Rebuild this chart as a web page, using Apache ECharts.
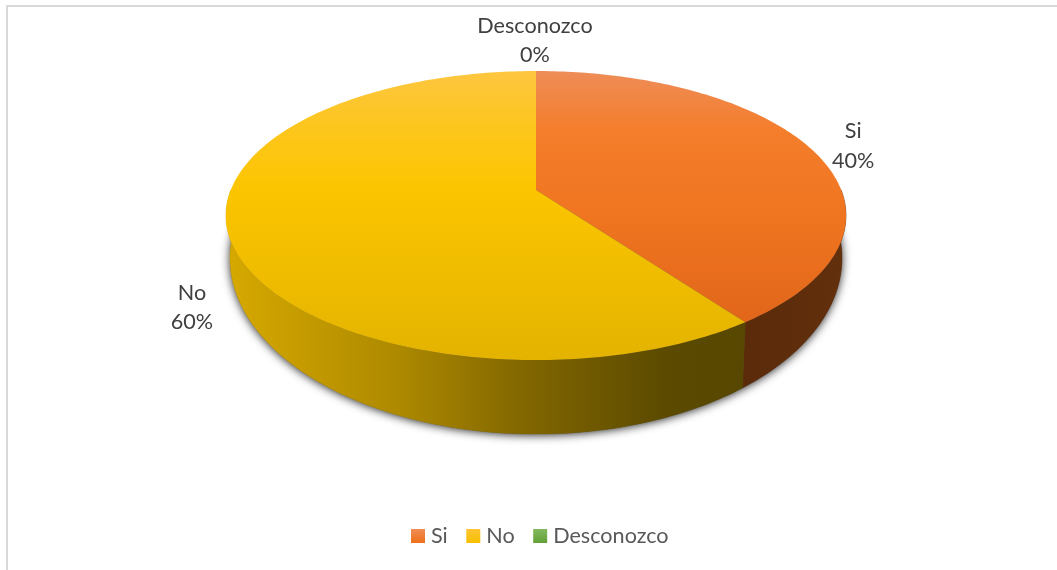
<!DOCTYPE html>
<html>
<head>
<meta charset="utf-8">
<style>html,body{margin:0;padding:0;background:#fff}#chart{width:1057px;height:570px}</style>
<script src="https://cdn.jsdelivr.net/npm/echarts@6/dist/echarts.min.js"></script>
</head>
<body>
<div id="chart"></div>
<script>
// Survey answers
const categories = ['Si', 'No', 'Desconozco'];
const values = [40, 60, 0];

const total = values.reduce((a, b) => a + b, 0);
const FONT = 'Lato, "Open Sans", sans-serif';

// Perspective disc: a unit circle is projected on to the page
const CX = 536;
const PERSP = -0.1765;
const TOP_DISC = { r: 305.2, a: 106.47, b: 190 };
const BASE_DISC = { r: 301.2, a: 130.5, b: 227 };

function project(disc, deg) {
  const t = deg * Math.PI / 180;
  const u = Math.sin(t), v = -Math.cos(t);
  const d = 1 + PERSP * v;
  return [CX + disc.r * u / d, (disc.a * v + disc.b) / d];
}
function arc(disc, from, to) {
  const pts = [];
  const n = Math.max(1, Math.ceil(Math.abs(to - from)));
  for (let i = 0; i <= n; i++) pts.push(project(disc, from + (to - from) * i / n));
  return pts;
}
function linear(x, y, x2, y2, stops) {
  return { type: 'linear', x, y, x2, y2, global: true,
    colorStops: stops.map(s => ({ offset: s[0], color: s[1] })) };
}
function legendFill(a, b) {
  return { type: 'linear', x: 0, y: 0, x2: 0, y2: 1,
    colorStops: [{ offset: 0, color: a }, { offset: 1, color: b }] };
}

const topFills = [
  linear(0, 71, 0, 360, [[0, '#EE8D58'], [0.2, '#F47E2C'], [0.5, '#F07520'], [0.87, '#E2661A'], [1, '#DD6218']]),
  linear(0, 71, 0, 360, [[0, '#FDC640'], [0.2, '#FDC61C'], [0.41, '#FCC500'], [1, '#E3B300']]),
  linear(0, 71, 0, 360, [[0, '#86BC62'], [1, '#5F9E35']])
];
const wallFills = [
  linear(740, 0, 846, 0, [[0, '#5A2A0A'], [1, '#63300C']]),
  linear(230, 0, 745, 0, [[0, '#D6A800'], [0.33, '#AD8900'], [0.58, '#806500'], [0.85, '#5B4A00'], [1, '#584700']]),
  '#3E6B22'
];
const legendFills = [
  legendFill('#F08D55', '#EE7019'),
  legendFill('#FEC433', '#F6C000'),
  legendFill('#82B85E', '#63A036')
];
// Label placement relative to the rim point at each slice's mid angle
const labelShift = [[42, -3], [-37, 72], [-1, -30.5]];

function sliceRange(index) {
  let before = 0;
  for (let i = 0; i < index; i++) before += values[i];
  return [before / total * 360, (before + values[index]) / total * 360];
}

function renderSlice(index) {
  return function (params, api) {
    const value = api.value(0);
    const [start, end] = sliceRange(index);
    const children = [];
    const mid = value === 0 ? 0 : (start + end) / 2;

    if (value > 0) {
      // Front wall: only the part of the rim that faces the viewer
      const a = Math.max(start, 90), b = Math.min(end, 270);
      if (b > a) {
        const pts = arc(TOP_DISC, a, b).concat(arc(BASE_DISC, b, a));
        children.push({ type: 'polygon', z2: 1, shape: { points: pts },
          style: { fill: wallFills[index], stroke: wallFills[index], lineWidth: 0.4 } });
      }
      // Top face, fanned out from the projected centre of the disc
      const face = [[CX, TOP_DISC.b]].concat(arc(TOP_DISC, start, end));
      children.push({ type: 'polygon', z2: 2, shape: { points: face },
        style: { fill: topFills[index] } });
    }

    const rim = project(TOP_DISC, mid);
    children.push({ type: 'text', z2: 3, style: {
      x: rim[0] + labelShift[index][0],
      y: rim[1] + labelShift[index][1],
      text: categories[index] + '\n' + Math.round(value / total * 100) + '%',
      align: 'center', verticalAlign: 'middle',
      fontFamily: FONT, fontSize: 21.6, lineHeight: 29.5, fill: '#404040'
    } });
    return { type: 'group', children };
  };
}

const baseSeries = {
  type: 'custom', name: 'base', silent: true, data: [0], z: 1,
  coordinateSystem: 'none',
  renderItem() {
    // Soft drop shadow cast by the disc's underside
    return { type: 'polygon', shape: { points: arc(BASE_DISC, 0, 360) },
      style: { fill: '#555', shadowBlur: 10, shadowColor: 'rgba(0,0,0,0.85)', shadowOffsetY: 1 } };
  }
};

const chart = echarts.init(document.getElementById('chart'), null, { renderer: 'canvas' });
chart.setOption({
  animation: false,
  backgroundColor: '#ffffff',
  graphic: [
    { type: 'line', shape: { x1: 7, y1: 6, x2: 1057, y2: 6 }, style: { stroke: '#D9D9D9', lineWidth: 2 } },
    { type: 'line', shape: { x1: 7, y1: 5, x2: 7, y2: 570 }, style: { stroke: '#D9D9D9', lineWidth: 2 } }
  ],
  legend: {
    left: 411, top: 525, padding: 0,
    itemWidth: 14, itemHeight: 14, itemGap: 18.5,
    icon: 'rect',
    selectedMode: false,
    textStyle: { fontFamily: FONT, fontSize: 21.6, color: '#595959', padding: [0, 0, 0, 1] },
    data: categories.map((name, i) => ({ name, itemStyle: { color: legendFills[i] } }))
  },
  series: [baseSeries].concat(categories.map((name, i) => ({
    type: 'custom', name, coordinateSystem: 'none', z: 2,
    itemStyle: { color: legendFills[i] },
    data: [values[i]],
    renderItem: renderSlice(i)
  })))
});
</script>
</body>
</html>
